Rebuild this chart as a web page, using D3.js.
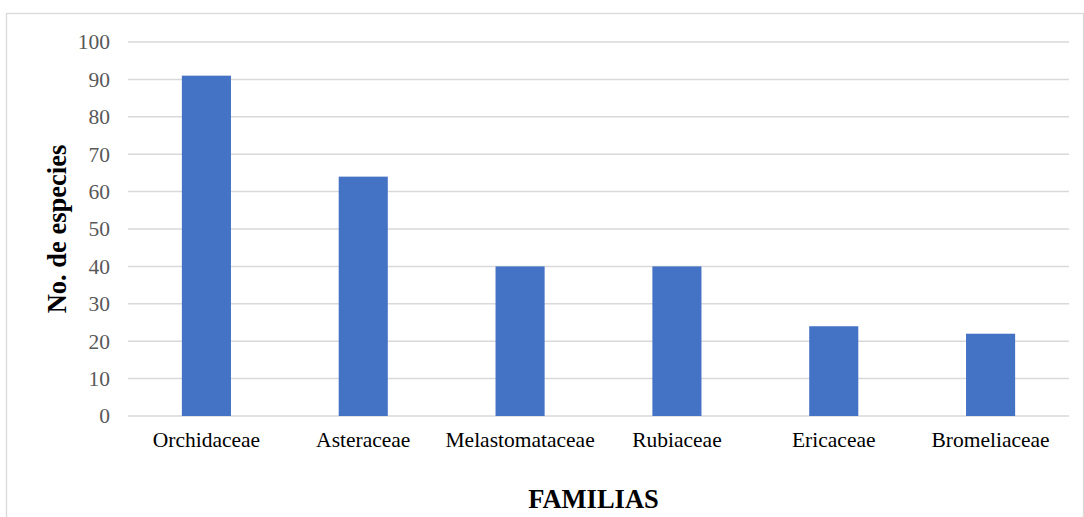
<!DOCTYPE html>
<html>
<head>
<meta charset="utf-8">
<script src="https://d3js.org/d3.v7.min.js"></script>
<style>
  html, body { margin: 0; padding: 0; background: #fff; }
  svg { display: block; }
</style>
</head>
<body>
<svg id="chart" width="1084" height="517"></svg>
<script>
// Number of species per botanical family
const families = ["Orchidaceae", "Asteraceae", "Melastomataceae", "Rubiaceae", "Ericaceae", "Bromeliaceae"];
const speciesCount = [91, 64, 40, 40, 24, 22];
const yTicks = [0, 10, 20, 30, 40, 50, 60, 70, 80, 90, 100];

const svg = d3.select("#chart");
const W = 1084, H = 517;
const font = "'Liberation Serif', 'Times New Roman', serif";

// outer frame
svg.append("rect")
  .attr("x", 6.5).attr("y", 13.5)
  .attr("width", W - 7).attr("height", H)
  .attr("fill", "#fff").attr("stroke", "#d9d9d9").attr("stroke-width", 1.3);

const plot = { left: 128, right: 1069, top: 42, bottom: 416 };

const x = d3.scaleBand()
  .domain(families)
  .range([plot.left, plot.right])
  .paddingInner(0.687)
  .paddingOuter(0.3435);

const y = d3.scaleLinear().domain([0, 100]).range([plot.bottom, plot.top]);

// horizontal gridlines
svg.append("g")
  .selectAll("line")
  .data(yTicks)
  .join("line")
  .attr("x1", plot.left).attr("x2", plot.right)
  .attr("y1", d => y(d)).attr("y2", d => y(d))
  .attr("stroke", "#d9d9d9").attr("stroke-width", 1.5);

// bars
svg.append("g")
  .selectAll("rect")
  .data(families.map((f, i) => ({ f, v: speciesCount[i] })))
  .join("rect")
  .attr("x", d => x(d.f))
  .attr("width", x.bandwidth())
  .attr("y", d => y(d.v))
  .attr("height", d => y(0) - y(d.v))
  .attr("fill", "#4472c4");

// y axis tick labels
const yAxis = d3.axisLeft(y).tickValues(yTicks).tickSize(0).tickPadding(18);
const gy = svg.append("g").attr("transform", `translate(${plot.left},0)`).call(yAxis);
gy.select(".domain").remove();
gy.selectAll("text")
  .attr("font-family", font).attr("font-size", 21.5).attr("fill", "#595959");

// x axis category labels
const xAxis = d3.axisBottom(x).tickSize(0).tickPadding(16);
const gx = svg.append("g").attr("transform", `translate(0,${plot.bottom})`).call(xAxis);
gx.select(".domain").remove();
gx.selectAll("text")
  .attr("font-family", font).attr("font-size", 21.5).attr("fill", "#000");

// axis titles
svg.append("text")
  .attr("transform", `translate(66,${(plot.top + plot.bottom) / 2}) rotate(-90)`)
  .attr("text-anchor", "middle")
  .attr("font-family", font).attr("font-size", 26.5).attr("font-weight", "bold")
  .text("No. de especies");

svg.append("text")
  .attr("x", (plot.left + plot.right) / 2 - 5).attr("y", 508)
  .attr("text-anchor", "middle")
  .attr("font-family", font).attr("font-size", 26.5).attr("font-weight", "bold")
  .text("FAMILIAS");
</script>
</body>
</html>
